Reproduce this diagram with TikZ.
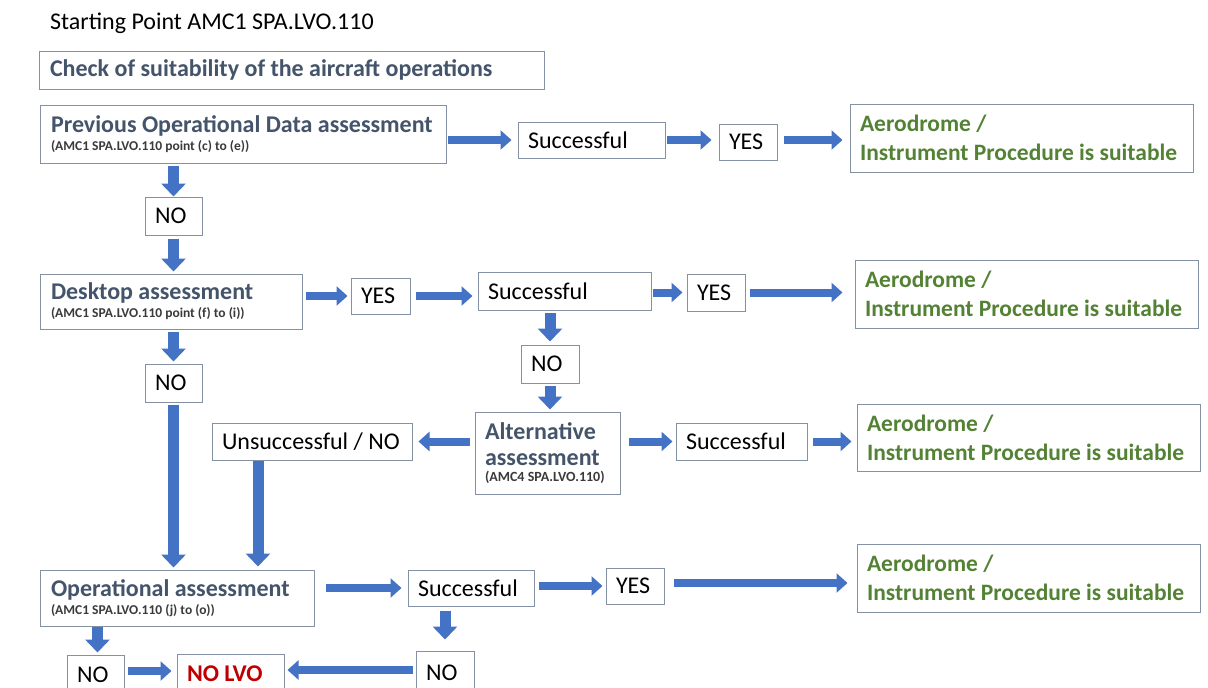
\documentclass[tikz,border=0pt]{standalone}
\usepackage{fontspec}
\setmainfont{Carlito}
\usetikzlibrary{arrows.meta,calc}
\definecolor{arrowblue}{HTML}{4472C4}
\definecolor{boxgray}{HTML}{8391A2}
\definecolor{titlecol}{HTML}{44546A}
\definecolor{aerogreen}{HTML}{548235}
\definecolor{nolvored}{HTML}{C00000}
\definecolor{subcol}{HTML}{3A3A3A}
\newcommand{\nsp}{\spaceskip=0pt\xspaceskip=0pt\relax}
\newcommand{\maintitle}[2]{\nsp{\fontsize{24}{29}\selectfont\bfseries\color{titlecol}#1}\\[-11pt]{\fontsize{13.5}{15}\selectfont\bfseries\color{subcol}#2}}
\newcommand{\aerotext}{\nsp{\fontsize{23.5}{28}\selectfont\bfseries\color{aerogreen}Aerodrome /\\Instrument Procedure is suitable}}
\tikzset{
  box/.style={draw=boxgray, line width=1pt, fill=white, inner xsep=10pt, inner ysep=0pt, align=left, font=\fontsize{24}{29}\selectfont},
  harr/.style={arrowblue, line width=8pt, -{Triangle[length=11pt,width=19pt]}},
  varr/.style={arrowblue, line width=11pt, -{Triangle[length=13pt,width=24pt]}},
}
\begin{document}
\begin{tikzpicture}[x=1pt,y=-1pt]
\useasboundingbox (0,0) rectangle (1208,688);
\fill[white] (0,0) rectangle (1208,688);
\clip (0,0) rectangle (1208,688);
% heading
\node[anchor=base west, inner sep=0pt, font=\fontsize{24}{29}\selectfont] (head) at (50,29) {Starting Point AMC1 SPA.LVO.110};
\node[box, text width=483, minimum height=38, inner xsep=11pt] (check) at (291.5,70) {\nsp{\bfseries\color{titlecol}Check of suitability of the aircraft operations}};
% row 1
\node[box, text width=384, minimum height=58, inner xsep=11pt] (prev) at (243,134) {\maintitle{Previous Operational Data assessment}{(AMC1 SPA.LVO.110 point (c) to (e))}};
\node[box, text width=127, minimum height=36] (succ1) at (591.5,140) {Successful};
\node[box, text width=38, minimum height=36] (yes1) at (748,142) {YES};
\node[box, text width=323, minimum height=68] (aero1) at (1021.5,138) {\aerotext};
\node[box, text width=37, minimum height=38] (no1) at (173.5,216) {NO};
% row 2
\node[box, text width=240, minimum height=55, inner xsep=11pt] (desk) at (171,301.5) {\maintitle{Desktop assessment}{(AMC1 SPA.LVO.110 point (f) to (i))}};
\node[box, text width=39, minimum height=36] (yes2) at (380.5,296) {YES};
\node[box, text width=153, minimum height=38] (succ2) at (564.5,291) {Successful};
\node[box, text width=38, minimum height=37] (yes3) at (716,292.5) {YES};
\node[box, text width=323, minimum height=68] (aero2) at (1026.5,294) {\aerotext};
\node[box, text width=37, minimum height=38] (no2) at (173.5,383) {NO};
\node[box, text width=38, minimum height=38] (no3) at (550,364) {NO};
% row 3
\node[box, text width=125, minimum height=82] (alt) at (547.5,453) {\nsp{\bfseries\color{titlecol}Alternative\\[-3pt]assessment}\\[-13pt]{\fontsize{14}{15}\selectfont\bfseries\color{subcol}(AMC4 SPA.LVO.110)}};
\node[box, text width=180, minimum height=37] (unsucc) at (312,441.5) {\nsp Unsuccessful / NO};
\node[box, text width=111, minimum height=37] (succ3) at (741.5,441.5) {Successful};
\node[box, text width=323, minimum height=67] (aero3) at (1028.5,437.5) {\aerotext};
% row 4
\node[box, text width=252, minimum height=56, inner xsep=11pt] (oper) at (177,598) {\maintitle{Operational assessment}{(AMC1 SPA.LVO.110 (j) to (o))}};
\node[box, text width=106, minimum height=36] (succ4) at (471,588) {Successful};
\node[box, text width=38, minimum height=36] (yes4) at (635,586) {YES};
\node[box, text width=323, minimum height=68] (aero4) at (1028.5,578) {\aerotext};
% bottom row
\node[box, text width=37, minimum height=40] (no4) at (95.5,675) {NO};
\node[box, text width=87, minimum height=40] (nolvo) at (230.5,674) {\nsp{\bfseries\color{nolvored}NO LVO}};
\node[box, text width=38, minimum height=44] (no5) at (445,673) {NO};
% helper coordinates
\coordinate (c1) at ([xshift=6pt,yshift=2pt]yes1.east);
\coordinate (c2) at ([xshift=9pt,yshift=3pt]yes4.east);
\coordinate (c3) at ([xshift=3pt,yshift=4pt]no4.east);
\coordinate (c4) at ([xshift=3pt,yshift=4pt]nolvo.east);
\coordinate (u1) at ([xshift=-54pt]unsucc.south);
% connectors row 1
\draw[harr] ([xshift=1pt]prev.east |- succ1.west) -- ([xshift=-6pt]succ1.west);
\draw[harr] ([xshift=1pt]succ1.east) -- ([xshift=-7pt]yes1.west |- succ1.east);
\draw[harr] (c1) -- ([xshift=-7pt]aero1.west |- c1);
\draw[varr] ([yshift=-2pt]no1.north |- prev.south) -- (no1.north);
\draw[varr] ([yshift=-3pt]no1.south) -- ([yshift=2pt]desk.north -| no1.south);
% connectors row 2
\draw[harr] ([xshift=3pt]desk.east |- yes2.west) -- ([xshift=-3pt]yes2.west);
\draw[harr] ([xshift=5pt]yes2.east) -- ([xshift=-5pt]succ2.west |- yes2.east);
\draw[harr] ([xshift=1pt]succ2.east |- yes3.west) -- ([xshift=-4pt]yes3.west);
\draw[harr] ([xshift=4pt]yes3.east) -- ([xshift=-12pt]aero2.west |- yes3.east);
\draw[varr] ([yshift=-2pt]no3.north |- succ2.south) -- ([yshift=3pt]no3.north);
\draw[varr] ([yshift=-2pt]no3.south) -- ([yshift=2pt]alt.north -| no3.south);
\draw[varr] ([yshift=-2pt]no2.north |- desk.south) -- ([yshift=2pt]no2.north);
% connectors row 3
\draw[harr] ([xshift=-5pt]alt.west |- unsucc.east) -- ([xshift=6pt]unsucc.east);
\draw[harr] ([xshift=8pt]alt.east |- succ3.west) -- ([xshift=-3pt]succ3.west);
\draw[harr] ([xshift=5pt]succ3.east) -- ([xshift=-5pt]aero3.west |- succ3.east);
\draw[varr] ([yshift=-2pt]no2.south) -- ([yshift=2pt]oper.north -| no2.south);
\draw[varr] (u1) -- ([yshift=3pt]oper.north -| u1);
% connectors row 4
\draw[harr] ([xshift=11pt]oper.east |- succ4.west) -- ([xshift=-6pt]succ4.west);
\draw[harr] ([xshift=4pt]succ4.east |- yes4.west) -- ([xshift=-3pt]yes4.west);
\draw[harr] (c2) -- ([xshift=-9pt]aero4.west |- c2);
\draw[varr] ([yshift=-4pt]no5.north |- succ4.south) -- ([yshift=11pt]no5.north);
\draw[varr] ([xshift=2pt]no4.north |- oper.south) -- ([xshift=2pt,yshift=2pt]no4.north);
\draw[harr] (c3) -- ([xshift=-5pt]nolvo.west |- c3);
\draw[harr] ([xshift=-3pt]no5.west |- c4) -- (c4);
\end{tikzpicture}
\end{document}
